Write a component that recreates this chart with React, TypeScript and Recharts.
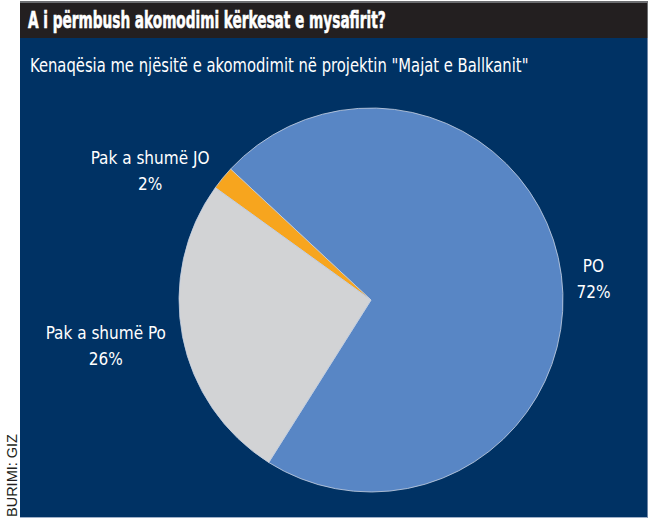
import { Cell, Pie, PieChart } from "recharts";

const TITLE = "A i përmbush akomodimi kërkesat e mysafirit?";
const SUBTITLE = 'Kenaqësia me njësitë e akomodimit në projektin "Majat e Ballkanit"';
const SOURCE = "BURIMI: GIZ";

const categories = ["PO", "Pak a shumë JO", "Pak a shumë Po"];
const shares = [72, 2, 26];
const colors = ["#5886c5", "#f7a51e", "#d2d3d5"];

const NARROW = '"DejaVu Sans Condensed", "Liberation Sans Narrow", "DejaVu Sans", sans-serif';
const RADIAN = Math.PI / 180;
const LABEL_SIZE = 17;

const data = categories.map((name, i) => ({ name, value: shares[i] }));

interface LabelProps {
  cx?: number;
  cy?: number;
  midAngle?: number;
  outerRadius?: number;
  name?: string;
  value?: number;
}

// Two-line label just outside the rim on the slice's mid angle,
// pushed away from the pie by half its own (estimated) width.
function SliceLabel({ cx = 0, cy = 0, midAngle = 0, outerRadius = 0, name = "", value }: LabelProps) {
  const r = outerRadius + 20;
  const x = cx + r * Math.cos(-midAngle * RADIAN);
  const y = cy + r * Math.sin(-midAngle * RADIAN) + 5;
  const pct = `${value}%`;
  const half = (Math.max(name.length, pct.length) * LABEL_SIZE * 0.48) / 2;
  const tx = x > cx ? x + half : x - half;
  return (
    <text
      x={tx}
      y={y}
      textAnchor="middle"
      fill="#ffffff"
      fontFamily={NARROW}
      fontSize={LABEL_SIZE}
    >
      <tspan x={tx} dy={-6}>
        {name}
      </tspan>
      <tspan x={tx} dy={26}>
        {pct}
      </tspan>
    </text>
  );
}

export default function App() {
  return (
    <div
      style={{
        position: "absolute",
        left: 0,
        top: 0,
        width: 650,
        height: 530,
        background: "#ffffff",
        overflow: "hidden",
      }}
    >
      <div
        style={{
          position: "absolute",
          left: 20,
          top: 1,
          width: 627,
          height: 36,
          background: "#231f20",
          borderTop: "2px solid #6d6e71",
          borderRight: "1px solid #6d6e71",
        }}
      >
        <div
          style={{
            position: "absolute",
            left: 8,
            top: 4,
            fontFamily: NARROW,
            fontWeight: 700,
            fontSize: 23,
            lineHeight: "normal",
            color: "#ffffff",
            WebkitTextStroke: "0.6px #ffffff",
            whiteSpace: "nowrap",
            transform: "scaleX(0.66)",
            transformOrigin: "left center",
          }}
        >
          {TITLE}
        </div>
      </div>
      <div
        style={{
          position: "absolute",
          left: 20,
          top: 38,
          width: 627,
          height: 479,
          background: "#003264",
          borderRight: "1px solid #6f86a6",
          borderBottom: "1px solid #9fb0c8",
        }}
      >
        <div
          style={{
            position: "absolute",
            left: 10,
            top: 16,
            fontFamily: NARROW,
            fontSize: 19,
            lineHeight: "normal",
            color: "#ffffff",
            whiteSpace: "nowrap",
            transform: "scaleX(0.865)",
            transformOrigin: "left center",
          }}
        >
          {SUBTITLE}
        </div>
        <div style={{ position: "absolute", left: 0, top: 0 }}>
          <PieChart width={627} height={479} margin={{ top: 0, right: 0, bottom: 0, left: 0 }}>
            <Pie
              data={data}
              dataKey="value"
              nameKey="name"
              cx={351}
              cy={262}
              outerRadius={192}
              startAngle={-122.2}
              endAngle={237.8}
              stroke="#c8d2e2"
              strokeWidth={0.8}
              label={<SliceLabel />}
              labelLine={false}
              isAnimationActive={false}
            >
              {data.map((d, i) => (
                <Cell key={d.name} fill={colors[i]} />
              ))}
            </Pie>
          </PieChart>
        </div>
      </div>
      <div
        style={{
          position: "absolute",
          left: 12,
          top: 517,
          transform: "rotate(-90deg)",
          transformOrigin: "left top",
          fontFamily: '"Liberation Sans", Arial, sans-serif',
          fontSize: 14.5,
          color: "#231f20",
          whiteSpace: "nowrap",
          lineHeight: "1",
        }}
      >
        <span style={{ position: "relative", top: -7 }}>{SOURCE}</span>
      </div>
    </div>
  );
}
